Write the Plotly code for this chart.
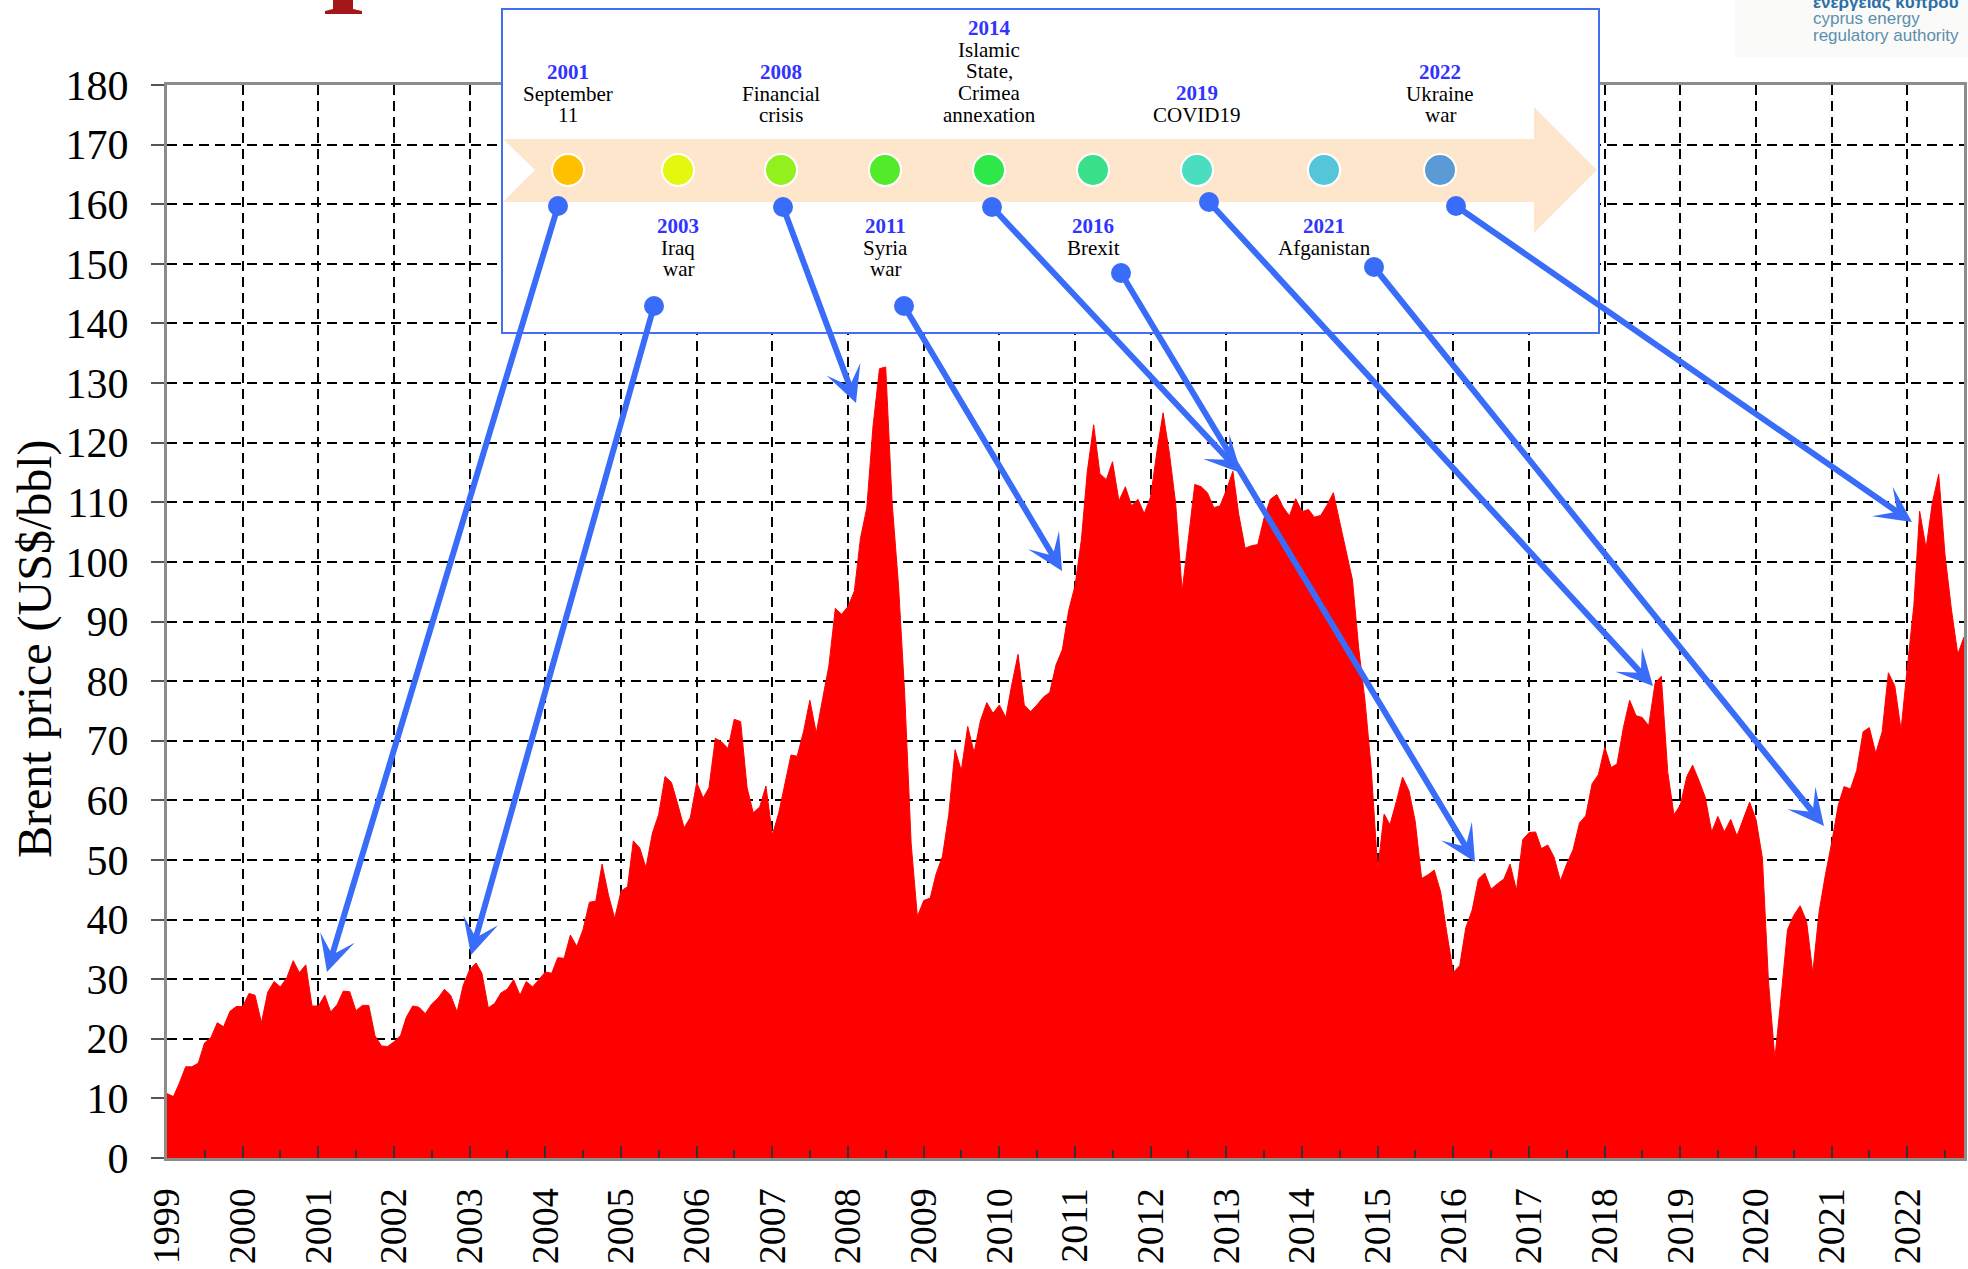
import pandas as pd
import plotly.graph_objects as go

# monthly Brent price, US$/bbl (Jan 1999 - Oct 2022)
p1999_2002 = [
    10.8, 10.3, 12.5, 15.3, 15.3, 15.9, 19.3, 20.2, 22.7, 22.0, 24.6, 25.4,
    25.4, 27.6, 27.3, 22.7, 27.8, 29.6, 28.7, 30.2, 33.1, 31.1, 32.4, 25.5,
    25.5, 27.3, 24.5, 25.7, 28.0, 27.9, 24.7, 25.6, 25.6, 20.5, 18.8, 18.7,
    19.5, 20.5, 23.6, 25.5, 25.3, 24.2, 25.8, 26.8, 28.3, 27.3, 24.5, 29.0,
]
p2003_2006 = [
    31.6, 32.7, 31.0, 25.2, 25.9, 27.7, 28.3, 29.9, 27.3, 29.6, 28.7, 29.9,
    31.2, 31.0, 33.6, 33.5, 37.4, 35.5, 38.3, 42.9, 43.1, 49.3, 44.1, 40.2,
    44.8, 45.5, 53.2, 52.0, 48.7, 54.5, 57.6, 64.0, 63.0, 59.4, 55.4, 57.1,
    63.0, 60.4, 62.1, 70.4, 69.8, 68.7, 73.6, 73.2, 62.1, 57.9, 58.9, 62.4,
]
p2007_2010 = [
    54.2, 57.9, 62.4, 67.6, 67.4, 71.6, 76.8, 71.3, 77.1, 82.6, 92.2, 91.2,
    92.5, 95.1, 103.9, 109.1, 122.8, 132.4, 132.7, 110.0, 96.0, 77.7, 52.7, 40.5,
    43.2, 43.6, 47.6, 50.6, 57.5, 68.5, 65.0, 72.4, 68.0, 73.3, 76.4, 74.6,
    76.0, 73.9, 79.3, 84.5, 76.0, 74.9, 76.0, 77.3, 78.1, 82.7, 85.3, 91.8,
]
p2011_2014 = [
    96.0, 103.8, 115.1, 123.0, 114.8, 113.8, 116.8, 110.2, 112.6, 109.4, 110.5, 108.1,
    110.9, 118.7, 125.0, 118.1, 109.7, 95.1, 103.8, 113.0, 112.6, 111.6, 109.1, 109.4,
    112.1, 115.2, 108.0, 102.3, 102.7, 102.9, 107.3, 110.5, 111.3, 109.2, 107.7, 110.6,
    108.4, 108.8, 107.5, 107.8, 109.5, 111.6, 106.8, 101.7, 97.0, 85.6, 76.6, 65.2,
]
p2015_2018 = [
    48.4, 57.7, 55.9, 59.8, 63.9, 61.6, 56.5, 46.9, 47.5, 48.3, 44.6, 37.7,
    31.1, 32.3, 38.6, 41.6, 46.8, 47.8, 45.1, 46.0, 46.8, 49.3, 44.9, 53.4,
    54.6, 54.7, 51.9, 52.5, 50.5, 46.5, 49.3, 51.7, 56.2, 57.4, 62.8, 64.3,
    68.9, 65.5, 66.1, 72.2, 76.8, 74.2, 73.9, 72.5, 79.7, 80.8, 64.7, 57.6,
]
p2019_2022 = [
    59.2, 64.0, 65.9, 63.3, 60.5, 54.7, 57.3, 54.7, 56.8, 54.0, 57.0, 59.7,
    56.8, 50.3, 29.7, 16.7, 27.0, 38.3, 40.7, 42.3, 39.7, 31.1, 41.4, 47.5,
    53.0, 59.2, 62.3, 61.9, 65.0, 71.5, 72.2, 67.9, 71.5, 81.4, 79.2, 71.8,
    82.5, 92.7, 108.5, 102.3, 109.9, 114.7, 101.3, 92.1, 84.5, 87.4,
]

brent = p1999_2002 + p2003_2006 + p2007_2010 + p2011_2014 + p2015_2018 + p2019_2022
months = pd.date_range("1999-01-01", periods=len(brent), freq="MS")

years = list(range(1999, 2023))
y_ticks = list(range(0, 181, 10))

# timeline events
event_years = ["2001", "2003", "2008", "2011", "2014", "2016", "2019", "2021", "2022"]
event_text = [
    ["September", "11"],
    ["Iraq", "war"],
    ["Financial", "crisis"],
    ["Syria", "war"],
    ["Islamic", "State,", "Crimea", "annexation"],
    ["Brexit"],
    ["COVID19"],
    ["Afganistan"],
    ["Ukraine", "war"],
]
dot_colors = ["#FFC000", "#E3F70F", "#92F01E", "#52EA2A", "#2EE84A",
              "#3ADF8A", "#4BDDC0", "#55C6DA", "#5B9BD5"]

SERIF = "Liberation Serif"
BLUE = "#3A6CFA"

# page geometry (px) used to place the decorations
L, T, R, B = 167, 85, 4, 111
FW, FH = 1968, 1269
W = FW - L - R
H = FH - T - B


def px(x):
    return (x - L) / W


def py(y):
    return (T + H - y) / H


fig = go.Figure()
fig.add_trace(go.Scatter(
    x=months, y=brent, mode="lines", fill="tozeroy",
    fillcolor="#FF0000", line=dict(color="#FF0000", width=1),
    hoverinfo="x+y", showlegend=False,
))

shapes = []
annotations = []

# timeline box
shapes.append(dict(type="rect", xref="paper", yref="paper",
                   x0=px(502), x1=px(1599), y0=py(333), y1=py(9),
                   fillcolor="white", line=dict(color="#4070F0", width=2), layer="above"))
band = [(503, 139), (1534, 139), (1534, 107), (1597, 170), (1534, 233),
        (1534, 202), (503, 202), (535, 170)]
path = "M " + " L ".join(f"{px(a):.5f},{py(b):.5f}" for a, b in band) + " Z"
shapes.append(dict(type="path", xref="paper", yref="paper", path=path,
                   fillcolor="#FDE6CB", line=dict(width=0), layer="above"))

dot_x = [568, 678, 781, 885, 989, 1093, 1197, 1324, 1440]
for cx, col in zip(dot_x, dot_colors):
    shapes.append(dict(type="circle", xref="paper", yref="paper",
                       x0=px(cx - 16), x1=px(cx + 16), y0=py(186), y1=py(154),
                       fillcolor=col, line=dict(color="white", width=2), layer="above"))

# event labels: (x, y of year line), following lines ~21.7 px apart
label_pos = [(568, 72), (678, 226), (781, 72), (885, 226), (989, 28),
             (1093, 226), (1197, 93), (1324, 226), (1440, 72)]
for yr, lines, (lx, ly) in zip(event_years, event_text, label_pos):
    annotations.append(dict(xref="paper", yref="paper", x=px(lx), y=py(ly),
                            text=f"<b>{yr}</b>", showarrow=False,
                            font=dict(family=SERIF, size=21, color="#3333FF"),
                            xanchor="center", yanchor="middle"))
    for i, t in enumerate(lines):
        annotations.append(dict(xref="paper", yref="paper", x=px(lx), y=py(ly + 21.7 * (i + 1)),
                                text=t, showarrow=False,
                                font=dict(family=SERIF, size=21, color="black"),
                                xanchor="center", yanchor="middle"))

# arrows from the timeline to the price curve: (tail px, head px)
arrows = [
    ((558, 206), (327, 972)),
    ((654, 306), (471, 955)),
    ((783, 207), (856, 403)),
    ((904, 306), (1062, 571)),
    ((992, 207), (1241, 473)),
    ((1121, 273), (1475, 862)),
    ((1209, 202), (1653, 686)),
    ((1374, 267), (1824, 826)),
    ((1456, 206), (1912, 522)),
]
for (tx, ty), (hx, hy) in arrows:
    annotations.append(dict(xref="paper", yref="paper", x=px(hx), y=py(hy),
                            ax=tx - hx, ay=ty - hy, axref="pixel", ayref="pixel",
                            text="", showarrow=True, arrowhead=3, arrowsize=1,
                            arrowwidth=6, arrowcolor=BLUE, standoff=0))
    shapes.append(dict(type="circle", xref="paper", yref="paper",
                       x0=px(tx - 10), x1=px(tx + 10), y0=py(ty + 10), y1=py(ty - 10),
                       fillcolor=BLUE, line=dict(width=0), layer="above"))

# y axis title
annotations.append(dict(xref="paper", yref="paper", x=px(35), y=py(649),
                        text="Brent price (US$/bbl)", textangle=-90, showarrow=False,
                        font=dict(family=SERIF, size=48, color="black"),
                        xanchor="center", yanchor="middle"))

# logo corner (cut off at page top and right)
shapes.append(dict(type="rect", xref="paper", yref="paper",
                   x0=px(1735), x1=px(1968), y0=py(57), y1=py(0),
                   fillcolor="#FAFAF8", line=dict(width=0), layer="above"))
annotations.append(dict(xref="paper", yref="paper", x=px(1811), y=py(2),
                        text="<b>ενεργειας κυπρου</b>", showarrow=False,
                        font=dict(family="Liberation Sans", size=17, color="#2A6FA8"),
                        xanchor="left", yanchor="middle"))
annotations.append(dict(xref="paper", yref="paper", x=px(1811), y=py(19),
                        text="cyprus energy", showarrow=False,
                        font=dict(family="Liberation Sans", size=17, color="#5A8FB0"),
                        xanchor="left", yanchor="middle"))
annotations.append(dict(xref="paper", yref="paper", x=px(1811), y=py(36),
                        text="regulatory authority", showarrow=False,
                        font=dict(family="Liberation Sans", size=17, color="#5A8FB0"),
                        xanchor="left", yanchor="middle"))

# red serif foot of a clipped title glyph, top left
foot = [(333, 0), (353, 0), (353, 9), (362, 11), (362, 14), (325, 14), (325, 11), (333, 9)]
shapes.append(dict(type="path", xref="paper", yref="paper",
                   path="M " + " L ".join(f"{px(a):.5f},{py(b):.5f}" for a, b in foot) + " Z",
                   fillcolor="#A3161A", line=dict(width=0), layer="above"))

fig.update_layout(
    width=FW, height=FH,
    margin=dict(l=L, r=R, t=T, b=B, autoexpand=False),
    paper_bgcolor="white", plot_bgcolor="white",
    font=dict(family=SERIF, color="black"),
    shapes=shapes, annotations=annotations,
    xaxis=dict(
        type="date", range=[months[0], months[-1]], automargin=False,
        tickmode="array", tickvals=[f"{y}-01-01" for y in years], ticktext=[str(y) for y in years],
        tickangle=-90, tickfont=dict(family=SERIF, size=38, color="black"),
        ticks="inside", ticklen=12, tickwidth=2, tickcolor="#333333",
        ticklabelstandoff=12,
        minor=dict(ticks="inside", ticklen=8, tickwidth=2, tickcolor="#333333",
                   tickvals=[f"{y}-07-01" for y in years], showgrid=False),
        showgrid=True, gridcolor="black", gridwidth=2, griddash="10px,6px",
        showline=True, linecolor="#8C8C8C", linewidth=3, mirror=True,
        zeroline=False,
    ),
    yaxis=dict(
        range=[0, 180], automargin=False,
        tickvals=y_ticks, ticktext=[str(v) for v in y_ticks],
        tickfont=dict(family=SERIF, size=42, color="black"),
        ticks="outside", ticklen=13, tickwidth=2, tickcolor="#555555",
        ticklabelstandoff=14,
        showgrid=True, gridcolor="black", gridwidth=2, griddash="10px,6px",
        showline=True, linecolor="#8C8C8C", linewidth=3, mirror=True,
        zeroline=False,
    ),
)

# the page body has a default 8px margin; drop it so the figure fills the window
fig.write_html("out.html", config={"displayModeBar": False},
               post_script="document.body.style.margin='0px';")
